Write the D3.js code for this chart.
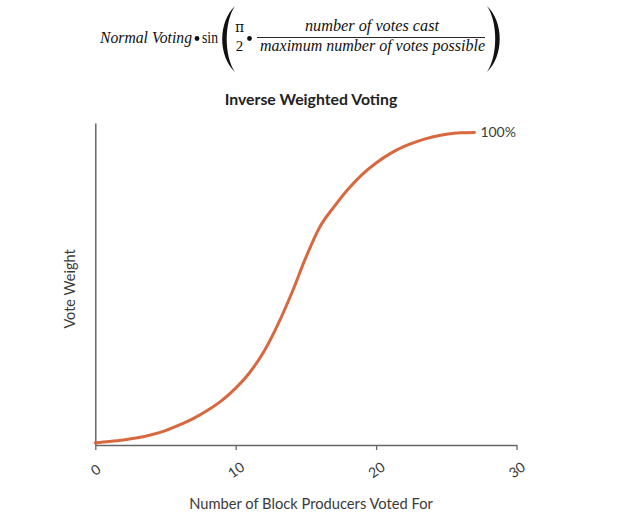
<!DOCTYPE html>
<html><head><meta charset="utf-8">
<script src="https://cdn.jsdelivr.net/npm/d3@7"></script>
<style>body{margin:0;background:#fff;} svg{display:block;}</style>
</head><body>
<svg id="chart" width="640" height="528"></svg>
<script>
const producers = [0,1,2,3,4,5,6,7,8,9,10,11,12,13,14,15,16,17,18,19,20,21,22,23,24,25,26,27];
const voteWeight = [0.007,0.011,0.016,0.023,0.033,0.046,0.064,0.085,0.111,0.142,0.182,0.232,0.298,0.385,0.487,0.60,0.698,0.762,0.818,0.865,0.902,0.932,0.955,0.972,0.985,0.994,0.999,1.0];
const xTicks = [0,10,20,30];
const endLabel = "100%";
const title = "Inverse Weighted Voting";
const xTitle = "Number of Block Producers Voted For";
const yTitle = "Vote Weight";

const svg = d3.select("#chart");
const x = d3.scaleLinear().domain([0,30]).range([95.3,516.5]);
const y = d3.scaleLinear().domain([0,1.03]).range([445,123]);
const axisColor = "#666";
const textColor = "#3a3a3a";
const sans = "Lato, 'Open Sans', sans-serif";

// Formula
const f = svg.append("g").attr("font-family","'Liberation Serif', 'DejaVu Serif', serif").attr("fill","#111");
function ft(xp, yp, str, len, italic, anchor, size){
  const t = f.append("text").attr("x",xp).attr("y",yp).attr("font-size",size || 17).text(str)
    .attr("text-anchor", anchor || "start");
  if (italic) t.attr("font-style","italic");
  if (len) t.attr("textLength",len).attr("lengthAdjust","spacingAndGlyphs");
  return t;
}
ft(100, 43, "Normal Voting", 92, true);
f.append("circle").attr("cx",197).attr("cy",38.5).attr("r",2.4).attr("fill","#111");
ft(202, 43, "sin", 16, false);
f.append("path").attr("d","M235,6 C218,22 218,56 235,72 C224,56 224,22 235,6 Z").attr("fill","#111");
f.append("text").attr("x",239.5).attr("y",32).attr("text-anchor","middle")
  .attr("font-family","'DejaVu Serif', serif").attr("font-size",14).attr("fill","#111").text("π");
ft(239.5, 51, "2", null, false, "middle", 15);
f.append("circle").attr("cx",249.5).attr("cy",38.5).attr("r",2.4).attr("fill","#111");
ft(372, 31, "number of votes cast", 134, true, "middle");
f.append("line").attr("x1",257).attr("x2",485).attr("y1",37.5).attr("y2",37.5).attr("stroke","#111").attr("stroke-width",0.9);
ft(372.5, 51, "maximum number of votes possible", 225, true, "middle");
f.append("path").attr("d","M487,6 C504,22 504,56 487,72 C498,56 498,22 487,6 Z").attr("fill","#111");

// Title
svg.append("text").attr("x",311).attr("y",105).attr("text-anchor","middle")
  .attr("font-family",sans).attr("font-weight","bold").attr("font-size",15.8).attr("fill","#222").text(title);

// Axes
const xAxis = svg.append("g").attr("transform",`translate(0,${y(0)})`)
  .call(d3.axisBottom(x).tickValues(xTicks).tickSizeInner(5).tickSizeOuter(0).tickFormat(d3.format("d")));
xAxis.select(".domain").attr("stroke",axisColor).attr("stroke-width",1.5);
xAxis.selectAll(".tick line").attr("stroke",axisColor).attr("stroke-width",1.3);
xAxis.selectAll(".tick text").attr("y",0).attr("dy","0.35em")
  .attr("transform","translate(0,25) rotate(-35)").attr("text-anchor","middle")
  .attr("font-family",sans).attr("font-size",14).attr("fill",textColor);

const yAxis = svg.append("g").attr("transform",`translate(${x(0)},0)`)
  .call(d3.axisLeft(y).tickValues([]).tickSizeOuter(0));
yAxis.select(".domain").attr("stroke",axisColor).attr("stroke-width",1.5);

// Axis titles
svg.append("text").attr("x",311).attr("y",509).attr("text-anchor","middle")
  .attr("font-family",sans).attr("font-size",14.7).attr("fill",textColor).text(xTitle);
svg.append("text").attr("transform","translate(75,289) rotate(-90)").attr("text-anchor","middle")
  .attr("font-family",sans).attr("font-size",14.5).attr("fill",textColor).text(yTitle);

// Curve
const data = producers.map((p,i)=>({x:p,y:voteWeight[i]}));
svg.append("path").datum(data)
  .attr("fill","none").attr("stroke","#d8683f").attr("stroke-width",3).attr("stroke-linecap","round")
  .attr("d", d3.line().x(d=>x(d.x)).y(d=>y(d.y)).curve(d3.curveMonotoneX));

const last = data[data.length-1];
svg.append("text").attr("x",x(last.x)+6).attr("y",y(last.y)).attr("dy","0.35em")
  .attr("font-family",sans).attr("font-size",14).attr("fill",textColor).text(endLabel);
</script>
</body></html>
